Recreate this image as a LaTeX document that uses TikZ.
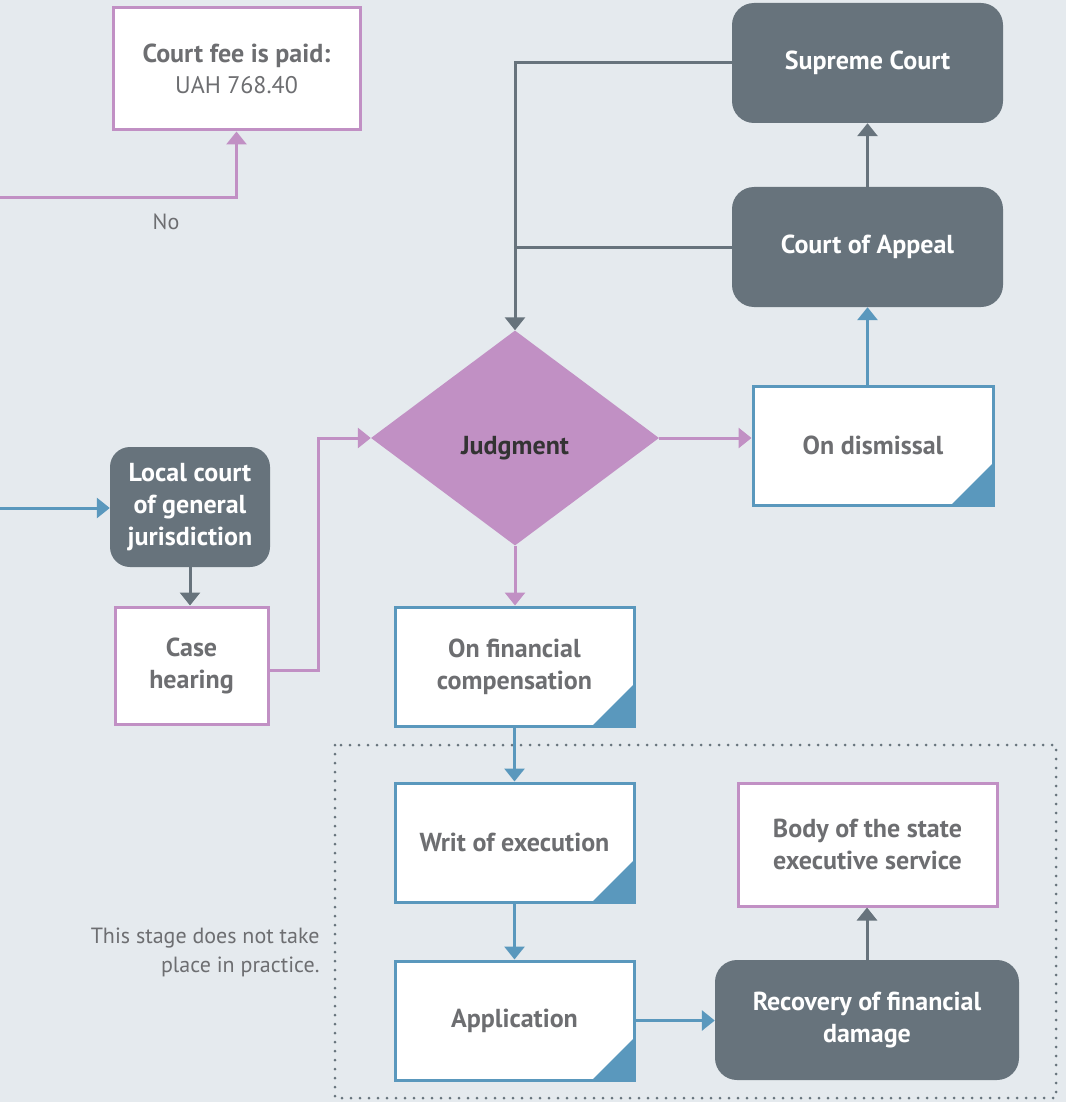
\documentclass[tikz,border=0pt]{standalone}
\usepackage{fontspec}
\setmainfont{PT Sans}
\usetikzlibrary{shapes.geometric,arrows.meta,calc}
\definecolor{bg}{HTML}{E5EAEE}
\definecolor{dk}{HTML}{67737C}
\definecolor{pur}{HTML}{C190C4}
\definecolor{blu}{HTML}{5A98BD}
\definecolor{txt}{HTML}{6D6E71}
\begin{document}
\begin{tikzpicture}[x=1pt,y=-1pt,
  box/.style={rectangle, fill=white, line width=3pt, text=txt, align=center, inner sep=0pt,
    font=\bfseries\fontsize{26}{32}\selectfont},
  pbox/.style={box, draw=pur},
  bbox/.style={box, draw=blu, path picture={
    \fill[blu] (path picture bounding box.south east) -- ++(-42,0) -- ++(42,-42) -- cycle;}},
  dbox/.style={rectangle, rounded corners=22pt, fill=dk, text=white, align=center, inner sep=0pt,
    font=\bfseries\fontsize{26}{32}\selectfont},
  tip/.style={-{Triangle[width=20pt,length=13pt]}},
  gline/.style={draw=dk, line width=3pt},
  pline/.style={draw=pur, line width=3pt},
  bline/.style={draw=blu, line width=3pt},
  note/.style={text=txt, font=\fontsize{22}{29}\selectfont}
]
\fill[bg] (0,0) rectangle (1066,1102);
\useasboundingbox (0,0) rectangle (1066,1102);

% stage that does not happen in practice
\draw[dk, line width=3pt, line cap=round, dash pattern=on 0pt off 9pt]
  (335,745) rectangle (1056,1098);
\node[note, align=right, anchor=east] (nt) at (323,952) {This stage does not take\\place in practice.};

% nodes
\node[pbox, minimum width=247pt, minimum height=122pt] (cf) at (236.5,69)
  {Court fee is paid:\\[-1pt]{\mdseries\fontsize{24}{30}\selectfont UAH 768.40}};
\node[note] (no) at (166,222) {No};
\node[dbox, minimum width=271pt, minimum height=120pt] (sc) at (867.5,63) {Supreme Court};
\node[dbox, minimum width=271pt, minimum height=120pt] (ca) at (867.5,247) {Court of Appeal};
\node[diamond, fill=pur, minimum width=288pt, minimum height=215pt, inner sep=0pt] (jd) at (515,438) {};
\node[text=black!80, font=\bfseries\fontsize{26}{32}\selectfont] (jdt) at ($(jd.center)+(0,10)$) {Judgment};
\node[bbox, minimum width=240pt, minimum height=119pt] (od) at (873,445.5) {On dismissal};
\node[dbox, minimum width=160pt, minimum height=120pt, rounded corners=20pt] (lc) at (190,507)
  {Local court\\of general\\jurisdiction};
\node[pbox, minimum width=153pt, minimum height=117pt] (ch) at (191.5,665.5) {Case\\hearing};
\node[bbox, minimum width=239pt, minimum height=119pt] (fc) at (514.5,666.5) {On financial\\compensation};
\node[bbox, minimum width=239pt, minimum height=119pt] (we) at (514.5,842.5) {Writ of execution};
\node[bbox, minimum width=239pt, minimum height=119pt] (ap) at (514.5,1020.5) {Application};
\node[dbox, minimum width=304pt, minimum height=120pt] (rc) at (867,1020) {Recovery of financial\\damage};
\node[pbox, minimum width=259pt, minimum height=123pt] (bs) at (867.5,844.5) {Body of the state\\executive service};

% free ends at the left edge
\coordinate (nostart) at (0,197);
\coordinate (lcstart) at (0,508);

% connectors
\draw[pline, tip] (nostart) -| (cf.south);
\draw[bline, tip] (lcstart) -- (lc.west |- lcstart);
\draw[gline, tip] (lc.south) -- (ch.north -| lc.south);
\draw[pline, tip] ($(ch.east)+(0,5)$) -- ++(49,0) |- (jd.west);
\draw[gline, tip] (sc.west) -| (jd.north);
\draw[gline] (ca.west) -- (ca.west -| jd.north);
\draw[gline, tip] (ca.north) -- (sc.south);
\draw[bline, tip] (od.north -| ca.south) -- (ca.south);
\draw[pline, tip] (jd.east) -- (od.west |- jd.east);
\draw[pline, tip] (jd.south) -- (fc.north -| jd.south);
\draw[bline, tip] (fc.south) -- (we.north);
\draw[bline, tip] (we.south) -- (ap.north);
\draw[bline, tip] (ap.east) -- (rc.west |- ap.east);
\draw[gline, tip] (rc.north) -- (bs.south -| rc.north);
\end{tikzpicture}
\end{document}
